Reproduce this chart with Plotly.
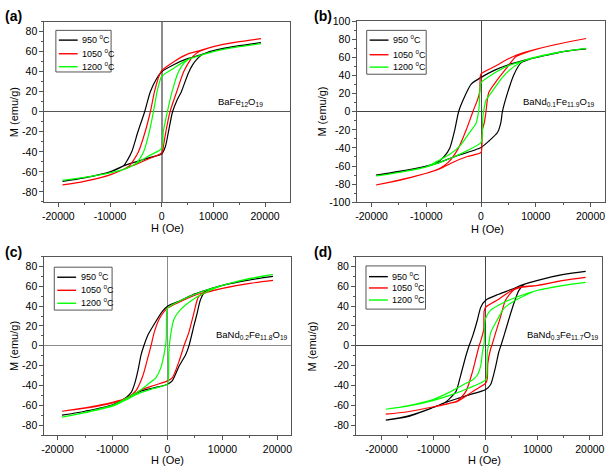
import plotly.graph_objects as go

W, H = 609, 473

temps = ["950 <sup>o</sup>C", "1050 <sup>o</sup>C", "1200 <sup>o</sup>C"]
colors = ["#000000", "#ff0000", "#00ff00"]
x_tickvals = [-20000, -10000, 0, 10000, 20000]
x_ticktext = ["-20000", "-10000", "0", "10000", "20000"]
y_tickvals_90 = [-80, -60, -40, -20, 0, 20, 40, 60, 80]
y_tickvals_100 = [-100, -80, -60, -40, -20, 0, 20, 40, 60, 80, 100]
panel_labels = ["(a)", "(b)", "(c)", "(d)"]
formulas = ["BaFe<sub>12</sub>O<sub>19</sub>",
            "BaNd<sub>0.1</sub>Fe<sub>11.9</sub>O<sub>19</sub>",
            "BaNd<sub>0.2</sub>Fe<sub>11.8</sub>O<sub>19</sub>",
            "BaNd<sub>0.3</sub>Fe<sub>11.7</sub>O<sub>19</sub>"]

# ---------------- panel (a) BaFe12O19 ----------------
a950_up_H = [19200, 15000, 10000, 7000, 5000, 2500, 0, -1000, -2200, -3300, -4600, -5800, -6600, -7400, -10000, -15000, -19200]
a950_up_M = [69, 66, 61, 56, 53, 47.5, 40, 33, 20, 0, -20, -40, -48, -54, -60, -66, -69.5]
a950_lo_H = [-19200, -15000, -10000, -7400, -5000, -2500, 0, 700, 1300, 2100, 3000, 3800, 5100, 6000, 7000, 7800, 10000, 15000, 19200]
a950_lo_M = [-69.5, -66, -60, -54, -50, -46, -42, -35, -20, 0, 12, 20, 38, 47, 53.5, 57, 61, 66, 69]

a1050_up_H = [19200, 15000, 10000, 7000, 5000, 2500, 0, -700, -1400, -2200, -3200, -4500, -5400, -6300, -10000, -15000, -19200]
a1050_up_M = [73, 70, 65, 60.5, 57.5, 50.5, 41, 33, 20, 0, -20, -40, -48, -54, -63, -69.5, -73]
a1050_lo_H = [-19200, -15000, -10000, -6300, -5000, -2500, 0, 400, 800, 1600, 2900, 4200, 5200, 6000, 7000, 10000, 15000, 19200]
a1050_lo_M = [-73, -69.5, -63, -55, -52.5, -47, -41, -32, -20, 0, 20, 39.5, 49, 55, 59.5, 65, 70, 73]

a1200_up_H = [19200, 15000, 10000, 7000, 5000, 2500, 0, -400, -900, -1600, -2400, -3500, -4400, -5200, -7000, -10000, -15000, -19200]
a1200_up_M = [68, 65, 60, 55.5, 52, 44, 35.5, 30, 20, 0, -20, -40, -48, -52.5, -57, -61, -65.5, -68.5]
a1200_lo_H = [-19200, -15000, -10000, -7000, -5200, -2500, 0, 300, 1100, 2000, 3200, 4400, 5200, 7000, 10000, 15000, 19200]
a1200_lo_M = [-68.5, -65.5, -61, -57, -52.5, -44, -36.5, -20, 0, 20, 39.5, 49, 52.5, 55.5, 60, 65, 68]

# ---------------- panel (b) BaNd0.1Fe11.9O19 ----------------
b950_up_H = [19200, 15000, 10000, 8000, 5000, 2500, 0, -1800, -3300, -4100, -4800, -5700, -6800, -8000, -10000, -15000, -19200]
b950_up_M = [69.5, 66.5, 60, 57, 52, 46, 38, 30.5, 12.6, 0, -20, -40, -50, -56, -60, -66, -70]
b950_lo_H = [-19200, -15000, -10000, -8000, -5000, -2500, 0, 1500, 3000, 3600, 3900, 4800, 6000, 7300, 9000, 12000, 15000, 19200]
b950_lo_M = [-70, -66.5, -60.5, -57, -50, -45, -39.5, -32, -23, -12.6, 0, 20, 41, 54, 58.5, 62.5, 66.5, 69.5]

b1050_up_H = [19200, 15000, 10000, 6400, 5000, 2500, 0, -150, -250, -600, -1500, -2700, -4200, -6000, -7500, -10000, -15000, -19200]
b1050_up_M = [81, 76, 69, 62.5, 58.5, 50, 42, 38, 22, 14, 0, -20, -41, -56, -62.5, -68, -75.5, -81]
b1050_lo_H = [-19200, -15000, -10000, -7500, -5000, -2500, 0, 150, 250, 600, 900, 1400, 2700, 4500, 6400, 8000, 10000, 15000, 19200]
b1050_lo_M = [-81, -76, -68, -63, -55.5, -49.5, -45, -38, -20, -12, 0, 21, 33, 47, 61, 65, 69, 76, 81]

b1200_up_H = [19200, 15000, 10000, 7000, 5000, 2500, 0, -200, -350, -600, -900, -2100, -3900, -5700, -7500, -10000, -15000, -19200]
b1200_up_M = [70, 66.5, 60, 55, 51, 43, 32, 25, 5, -5, -12.6, -23, -38, -47, -53, -61, -67, -71]
b1200_lo_H = [-19200, -15000, -10000, -7500, -5000, -2500, 0, 200, 350, 600, 900, 2100, 3900, 5700, 8000, 10000, 15000, 19200]
b1200_lo_M = [-71, -67, -61, -56, -50, -43, -34, -27, -5, 5, 12.6, 23, 38, 48.5, 57, 60.5, 66.5, 70]

# ---------------- panel (c) BaNd0.2Fe11.8O19 ----------------
c950_up_H = [19200, 15000, 10000, 7500, 5000, 2500, 0, -900, -2400, -3600, -4300, -4800, -5400, -6000, -6600, -7500, -10000, -15000, -19200]
c950_up_M = [70, 66.5, 61, 57, 52.5, 46, 40, 35, 22, 10.5, 0, -9, -25.6, -38.7, -47, -52, -59.5, -66, -70]
c950_lo_H = [-19200, -15000, -10000, -7500, -5000, -2500, 0, 900, 2100, 3300, 3900, 4800, 5400, 6000, 6900, 8000, 10000, 15000, 19200]
c950_lo_M = [-70, -66, -60, -53, -46, -42.5, -38.7, -35, -20.6, -9, 0, 20, 33, 46.5, 55, 57.5, 61, 66.5, 70]

c1050_up_H = [19200, 15000, 10000, 7500, 5000, 2500, 0, -1500, -2400, -3000, -3600, -4500, -5700, -7200, -10000, -15000, -19200]
c1050_up_M = [66, 63, 58, 55, 51, 45, 38, 27, 13.8, 0, -12.5, -30.5, -45, -52, -57.5, -63, -66]
c1050_lo_H = [-19200, -15000, -10000, -7200, -5000, -2500, 0, 900, 2100, 3000, 3900, 4800, 5700, 7200, 10000, 15000, 19200]
c1050_lo_M = [-66, -62.5, -57, -52.5, -45, -40, -35.4, -32, -15.7, 0, 13.8, 33, 50, 54, 58, 63, 66]

c1200_up_H = [19200, 15000, 10000, 7000, 5000, 2500, 0, -150, -250, -600, -1200, -2100, -3600, -5000, -6500, -10000, -15000, -19200]
c1200_up_M = [72, 68, 61, 56, 52, 46, 38, 34, 5, -8, -22, -32, -39, -45, -50, -60, -67, -72]
c1200_lo_H = [-19200, -15000, -10000, -7000, -5000, -2500, 0, 150, 250, 600, 1200, 2400, 4200, 6600, 10000, 15000, 19200]
c1200_lo_M = [-72, -67.5, -61, -53, -47.5, -43, -38.7, -35, -6, 12, 27, 36.7, 45, 53, 61, 67.5, 72]

# ---------------- panel (d) BaNd0.3Fe11.7O19 ----------------
d950_up_H = [19200, 15000, 10000, 7300, 5000, 2500, 0, -950, -1600, -2500, -3200, -3800, -4800, -5700, -6700, -7900, -10000, -15000, -19200]
d950_up_M = [75, 72, 66, 62, 57, 52, 46, 39, 26, 10, 0, -10, -29.5, -46, -52, -57.5, -62, -71, -75]
d950_lo_H = [-19200, -15000, -10000, -7900, -5000, -3200, 0, 950, 1900, 2500, 2900, 3500, 4400, 5400, 6350, 7300, 10000, 15000, 19200]
d950_lo_M = [-75, -71.5, -62, -57.5, -52.5, -49.5, -44, -39, -21, -6.5, 0, 10, 26, 42.6, 55.7, 61.5, 66, 72, 75]

d1050_up_H = [19200, 15000, 10000, 6350, 5000, 2500, 0, -300, -400, -950, -1270, -1900, -2540, -3800, -5400, -7000, -10000, -15000, -19200]
d1050_up_M = [69, 66, 61, 59, 56, 47, 39, 35, 16, 5, 0, -13, -26, -46, -55.5, -58, -61.5, -66.5, -69]
d1050_lo_H = [-19200, -15000, -10000, -7000, -5400, -2500, 0, 300, 400, 950, 1150, 1900, 2860, 3800, 5400, 6350, 10000, 15000, 19200]
d1050_lo_M = [-69, -66.5, -61.5, -58, -56, -46, -37.7, -33, -18, -3, 0, 13, 29.5, 46, 56.5, 58.5, 61, 66, 69]

d1200_up_H = [19200, 15000, 10000, 6350, 3200, 950, 0, -200, -300, -630, -950, -1600, -2540, -4400, -7000, -10000, -15000, -19200]
d1200_up_M = [64, 61, 56, 50, 43, 36, 28, 24, 3, -6.5, -19.7, -29.5, -34.4, -39.5, -47, -54, -60.5, -64]
d1200_lo_H = [-19200, -15000, -10000, -6350, -3200, 0, 200, 300, 630, 950, 2200, 3500, 5100, 8250, 10000, 15000, 19200]
d1200_lo_M = [-64, -61, -55, -49, -42.6, -34.4, -30, -6.5, 3.3, 13, 26, 37.7, 44, 52.5, 56, 61, 64]

panel_data = [
    [(a950_up_H, a950_up_M, a950_lo_H, a950_lo_M),
     (a1050_up_H, a1050_up_M, a1050_lo_H, a1050_lo_M),
     (a1200_up_H, a1200_up_M, a1200_lo_H, a1200_lo_M)],
    [(b950_up_H, b950_up_M, b950_lo_H, b950_lo_M),
     (b1050_up_H, b1050_up_M, b1050_lo_H, b1050_lo_M),
     (b1200_up_H, b1200_up_M, b1200_lo_H, b1200_lo_M)],
    [(c950_up_H, c950_up_M, c950_lo_H, c950_lo_M),
     (c1050_up_H, c1050_up_M, c1050_lo_H, c1050_lo_M),
     (c1200_up_H, c1200_up_M, c1200_lo_H, c1200_lo_M)],
    [(d950_up_H, d950_up_M, d950_lo_H, d950_lo_M),
     (d1050_up_H, d1050_up_M, d1050_lo_H, d1050_lo_M),
     (d1200_up_H, d1200_up_M, d1200_lo_H, d1200_lo_M)],
]

# layout geometry (pixels)
px_left = [41.7, 357.3, 41.7, 356.0]
px_right = [289.3, 606.7, 290.0, 604.3]
px_top = [16.0, 15.7, 257.1, 257.1]
px_bot = [201.0, 201.3, 440.2, 440.2]
x_ranges = [[-22700, 24800], [-22600, 22600], [-22400, 22400], [-24900, 22400]]
y_ranges = [[-90, 90], [-100, 100], [-90, 90], [-90, 90]]
zx_style = [("#8c8c8c", 2), ("#444444", 1), ("#8c8c8c", 1.3), ("#444444", 1)]
zy_style = [("#555555", 1), ("#444444", 1), ("#8c8c8c", 1.3), ("#444444", 1)]
legend_box = [(53.3, 25, 109, 67.7), (366.7, 25, 426.7, 70), (51.7, 268, 110, 312), (366, 266.7, 426, 311)]
legend_rows = [(35, 49, 62.3), (35, 50, 62.7), (278.3, 291.7, 305), (277.7, 289.3, 301.7)]
formula_px = [(215, 98), (522.5, 99), (212.5, 338), (526.5, 338)]
ylabel_px = [(10.5, 108.5), (321.5, 108.5), (11, 349), (312, 349)]
xlabel_px = [(165.5, 227.5), (489, 228.5), (166, 466), (485, 466)]
plabel_px = [(0, 0), (312, 0), (0, 242), (312, 242)]

FONT = "Liberation Sans, Arial, sans-serif"


def px(xp):
    return xp / W


def py(yp):
    return 1 - yp / H


fig = go.Figure()
layout = dict(width=W, height=H, margin=dict(l=0, r=0, t=0, b=0),
              paper_bgcolor="white", plot_bgcolor="white", showlegend=False,
              font=dict(family=FONT, color="black"))
annotations = []
shapes = []

for p in range(4):
    sfx = "" if p == 0 else str(p + 1)
    for s in range(3):
        uH, uM, lH, lM = panel_data[p][s]
        fig.add_trace(go.Scatter(
            x=list(uH) + list(lH), y=list(uM) + list(lM), mode="lines",
            line=dict(color=colors[s], width=1.2, shape="spline", smoothing=0.7),
            name=temps[s], xaxis="x" + sfx, yaxis="y" + sfx))
    xd = [px(px_left[p]), px(px_right[p])]
    yd = [py(px_bot[p]), py(px_top[p])]
    yt = y_tickvals_100 if y_ranges[p][1] == 100 else y_tickvals_90
    layout["xaxis" + sfx] = dict(
        domain=xd, range=x_ranges[p], anchor="y" + sfx,
        tickmode="array", tickvals=x_tickvals, ticktext=x_ticktext,
        showline=True, linecolor="#555555", linewidth=1, mirror=True,
        ticks="outside", ticklen=4, tickcolor="#555555",
        minor=dict(tickmode="linear", tick0=0, dtick=5000, ticks="outside", ticklen=2, tickcolor="#555555"),
        showgrid=False, zeroline=True, zerolinecolor=zx_style[p][0], zerolinewidth=zx_style[p][1],
        tickfont=dict(family=FONT, size=10.5, color="black"))
    layout["yaxis" + sfx] = dict(
        domain=yd, range=y_ranges[p], anchor="x" + sfx,
        tickmode="array", tickvals=yt, ticktext=[str(v) for v in yt],
        showline=True, linecolor="#555555", linewidth=1, mirror=True,
        ticks="outside", ticklen=4, tickcolor="#555555",
        minor=dict(tickmode="linear", tick0=0, dtick=10, ticks="outside", ticklen=2, tickcolor="#555555"),
        showgrid=False, zeroline=True, zerolinecolor=zy_style[p][0], zerolinewidth=zy_style[p][1],
        tickfont=dict(family=FONT, size=10.5, color="black"))

    # legend box drawn as a framed key
    bx0, by0, bx1, by1 = legend_box[p]
    shapes.append(dict(type="rect", xref="paper", yref="paper",
                       x0=px(bx0), x1=px(bx1), y0=py(by1), y1=py(by0),
                       line=dict(color="#555555", width=1), fillcolor="white", layer="above"))
    for s in range(3):
        ry = legend_rows[p][s]
        shapes.append(dict(type="line", xref="paper", yref="paper",
                           x0=px(bx0 + 3), x1=px(bx0 + 22), y0=py(ry), y1=py(ry),
                           line=dict(color=colors[s], width=1.4), layer="above"))
        annotations.append(dict(text=temps[s], xref="paper", yref="paper",
                                x=px(bx0 + 24.5), y=py(ry - 1), xanchor="left", yanchor="middle",
                                showarrow=False, font=dict(family=FONT, size=9, color="black")))

    annotations.append(dict(text=formulas[p], xref="paper", yref="paper",
                            x=px(formula_px[p][0]), y=py(formula_px[p][1]),
                            xanchor="left", yanchor="middle", showarrow=False,
                            font=dict(family=FONT, size=9.5, color="black")))
    annotations.append(dict(text="M (emu/g)", xref="paper", yref="paper",
                            x=px(ylabel_px[p][0]), y=py(ylabel_px[p][1]),
                            xanchor="center", yanchor="middle", textangle=-90, showarrow=False,
                            font=dict(family=FONT, size=11, color="black")))
    annotations.append(dict(text="H (Oe)", xref="paper", yref="paper",
                            x=px(xlabel_px[p][0]), y=py(xlabel_px[p][1]),
                            xanchor="center", yanchor="middle", showarrow=False,
                            font=dict(family=FONT, size=11, color="black")))
    annotations.append(dict(text="<b>" + panel_labels[p] + "</b>", xref="paper", yref="paper",
                            x=px(plabel_px[p][0]), y=py(plabel_px[p][1]),
                            xanchor="left", yanchor="top", showarrow=False,
                            font=dict(family=FONT, size=14, color="black")))

layout["annotations"] = annotations
layout["shapes"] = shapes
fig.update_layout(**layout)
fig.write_html("out.html", config={"displayModeBar": False},
               post_script="document.body.style.margin='0px';document.body.style.overflow='hidden';")
